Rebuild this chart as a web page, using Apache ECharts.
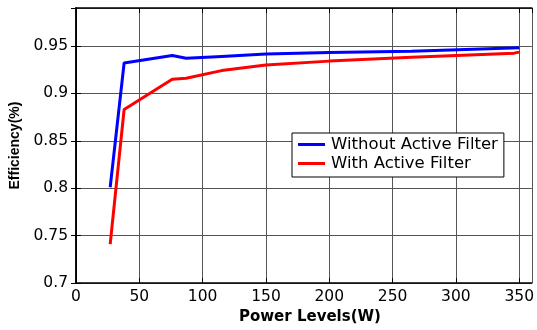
<!DOCTYPE html>
<html>
<head>
<meta charset="utf-8">
<script src="https://cdn.jsdelivr.net/npm/echarts@6/dist/echarts.min.js"></script>
<style>
  html, body { margin: 0; padding: 0; background: #fff; }
  #chart { width: 537px; height: 330px; }
</style>
</head>
<body>
<div id="chart"></div>
<script>
// 功率等级 (W)
var powerNoFilter = [27, 38, 76, 87, 115, 150, 200, 265, 350];
var effNoFilter = [0.801, 0.932, 0.940, 0.937, 0.939, 0.9415, 0.943, 0.9445, 0.948];

var powerFilter = [27, 38, 76, 87, 115, 150, 200, 265, 346, 350];
var effFilter = [0.741, 0.883, 0.915, 0.916, 0.924, 0.930, 0.934, 0.938, 0.9424, 0.9435];

var seriesNames = ['Without Active Filter', 'With Active Filter'];
var seriesColors = ['#0000ff', '#ff0000'];

function pairs(xs, ys) {
    var out = [];
    for (var i = 0; i < xs.length; i++) out.push([xs[i], ys[i]]);
    return out;
}

var tickFont = { fontFamily: 'DejaVu Sans', fontSize: 15.5, color: '#000' };
var gridLine = { show: true, lineStyle: { color: '#555', width: 1 } };

var Chart = echarts.init(document.getElementById('chart'));
Chart.setOption({
    animation: false,
    backgroundColor: '#fff',
    grid: { left: 76, top: 8, right: 3, bottom: 41 },
    legend: {
        orient: 'vertical',
        left: 292, top: 133,
        backgroundColor: '#fff',
        borderColor: '#000',
        borderWidth: 1,
        borderRadius: 0,
        padding: [2, 6, 4, 6],
        itemGap: 0,
        itemWidth: 27,
        itemHeight: 3,
        icon: 'rect',
        textStyle: { fontFamily: 'DejaVu Sans', fontSize: 16.5, color: '#000', lineHeight: 19, padding: [0, 0, 0, 1] },
        data: seriesNames
    },
    xAxis: [
        {
            type: 'value', min: 0, max: 360, interval: 50,
            name: 'Power Levels(W)', nameLocation: 'middle', nameGap: 22,
            nameTextStyle: { fontFamily: 'DejaVu Sans', fontWeight: 'bold', fontSize: 15, color: '#000', padding: [0, 0, 0, 12] },
            axisLine: { show: true, onZero: false, lineStyle: { color: '#000', width: 1.5 } },
            axisTick: { show: true, inside: true, length: 5, lineStyle: { color: '#000' } },
            axisLabel: Object.assign({ margin: 6, showMaxLabel: false }, tickFont),
            splitLine: gridLine
        },
        {
            type: 'value', min: 0, max: 360, interval: 50, position: 'top',
            axisLine: { show: true, lineStyle: { color: '#000', width: 1.5 } },
            axisTick: { show: true, inside: true, length: 5, lineStyle: { color: '#000' } },
            axisLabel: { show: false },
            splitLine: { show: false }
        }
    ],
    yAxis: [
        {
            type: 'value', min: 0.7, max: 0.99, interval: 0.05,
            name: 'Efficiency(%)', nameLocation: 'middle', nameGap: 50,
            nameTextStyle: { fontFamily: 'Liberation Sans', fontWeight: 'bold', fontSize: 14, color: '#000' },
            axisLine: { show: true, onZero: false, lineStyle: { color: '#000', width: 1.5 } },
            axisTick: { show: true, inside: true, length: 5, lineStyle: { color: '#000' } },
            axisLabel: Object.assign({
                margin: 8, showMaxLabel: false,
                formatter: function (v) { return String(+v.toFixed(2)); }
            }, tickFont),
            splitLine: gridLine
        },
        {
            type: 'value', min: 0.7, max: 0.99, interval: 0.05, position: 'right',
            axisLine: { show: true, lineStyle: { color: '#000', width: 1.5 } },
            axisTick: { show: true, inside: true, length: 5, lineStyle: { color: '#000' } },
            axisLabel: { show: false },
            splitLine: { show: false }
        }
    ],
    series: [
        {
            name: seriesNames[0], type: 'line', showSymbol: false,
            lineStyle: { color: seriesColors[0], width: 3 },
            itemStyle: { color: seriesColors[0] },
            data: pairs(powerNoFilter, effNoFilter)
        },
        {
            name: seriesNames[1], type: 'line', showSymbol: false,
            lineStyle: { color: seriesColors[1], width: 3 },
            itemStyle: { color: seriesColors[1] },
            data: pairs(powerFilter, effFilter)
        }
    ]
});
</script>
</body>
</html>
